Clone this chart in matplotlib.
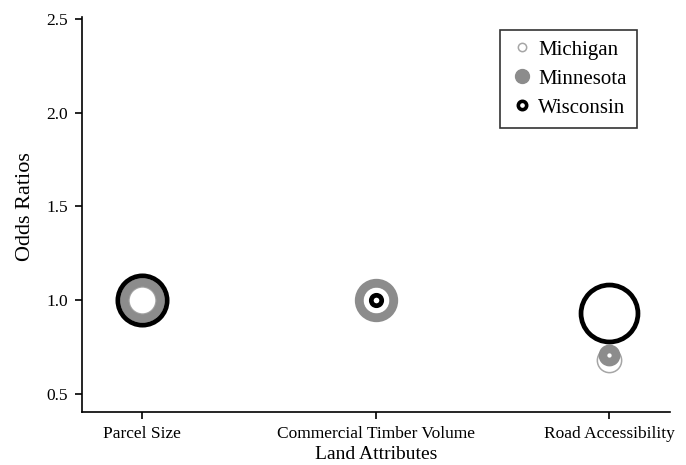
import matplotlib
matplotlib.use("Agg")
import matplotlib.pyplot as plt
from matplotlib.lines import Line2D

# Odds ratios by land attribute and state
attributes = ["Parcel Size", "Commercial Timber Volume", "Road Accessibility"]
michigan = [1.00, 1.00, 0.68]
minnesota = [1.00, 1.00, 0.705]
wisconsin = [1.00, 1.00, 0.93]
yticks = [0.5, 1.0, 1.5, 2.0, 2.5]

# marker diameters (points) used for each state at each attribute
ms_michigan = [19.5, 19.5, 17.5]
ms_minnesota = [26.0, 25.0, 9.5]
ms_wisconsin = [35.5, 7.5, 41.0]

plt.rcParams["font.family"] = ["Liberation Serif", "DejaVu Serif"]

fig = plt.figure(figsize=(6.86, 4.65), dpi=100)
ax = fig.add_axes([0.1195, 0.114, 0.857, 0.849])

xs = range(len(attributes))
styles = [
    (michigan, ms_michigan, "#a6a6a6", 1.1),
    (minnesota, ms_minnesota, "#8c8c8c", 6.2),
    (wisconsin, ms_wisconsin, "black", 3.4),
]
for vals, sizes, color, lw in styles:
    for x, v, s in zip(xs, vals, sizes):
        ax.plot(x, v, marker="o", ms=s, mfc="none", mec=color, mew=lw,
                linestyle="none")

ax.set_xlim(-0.257, 2.26)
ax.set_ylim(0.402, 2.51)
ax.set_xticks(list(xs))
ax.set_xticklabels(attributes, fontsize=12.5)
ax.set_yticks(yticks)
ax.set_yticklabels([f"{t:.1f}" for t in yticks], fontsize=12.5)
ax.set_xlabel("Land Attributes", fontsize=14, labelpad=3)
ax.set_ylabel("Odds Ratios", fontsize=16, labelpad=10)
ax.yaxis.set_label_coords(-0.08, 0.52)

for side in ("top", "right"):
    ax.spines[side].set_visible(False)
for side in ("left", "bottom"):
    ax.spines[side].set_linewidth(1.2)
ax.tick_params(length=5, width=1.2, pad=5)

handles = [
    Line2D([], [], marker="o", ms=6, mfc="white", mec="#a6a6a6", mew=1.1,
           linestyle="none"),
    Line2D([], [], marker="o", ms=10, mfc="#8c8c8c", mec="#8c8c8c", mew=1,
           linestyle="none"),
    Line2D([], [], marker="o", ms=6, mfc="white", mec="black", mew=2.6,
           linestyle="none"),
]
leg = ax.legend(handles, ["Michigan", "Minnesota", "Wisconsin"],
                loc="upper right", bbox_to_anchor=(0.962, 0.995),
                fontsize=15, frameon=True, fancybox=False,
                edgecolor="black", handletextpad=0.25, labelspacing=0.45,
                borderpad=0.5, handlelength=1.1)
leg.get_frame().set_linewidth(1.2)

fig.savefig("out.png", dpi=100)
